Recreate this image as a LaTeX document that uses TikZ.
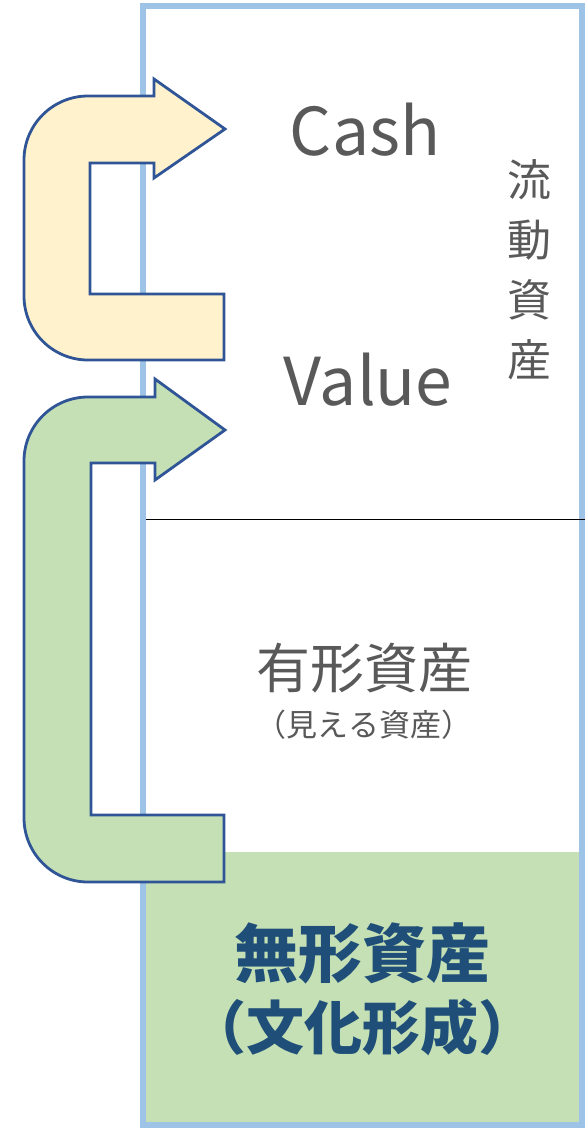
\documentclass[tikz,border=0pt]{standalone}
\usepackage{fontspec}
\setmainfont{Noto Sans CJK JP}
\usetikzlibrary{positioning}
\definecolor{framebl}{HTML}{9DC3E6}
\definecolor{arrowbl}{HTML}{2F5597}
\definecolor{cashyel}{HTML}{FFF2CC}
\definecolor{intgrn}{HTML}{C5E0B4}
\definecolor{txtgray}{HTML}{595959}
\definecolor{txtnavy}{HTML}{1F4E79}
\begin{document}
\begin{tikzpicture}[x=1pt, y=-1pt, bigarrow/.style={draw=arrowbl, line width=2.8pt,
    line join=miter}, label/.style={text=txtgray, inner sep=0pt}]
  \useasboundingbox (0,0) rectangle (585,1129);%
  \fill[intgrn] (145,852) rectangle (582,1125);%
  \draw[framebl, line width=6pt] (143,6.5) rectangle (582,1125);%
  \draw[black, line width=1pt] (146,519) -- (585,519);%
  % cash loop
  \draw[bigarrow, fill=cashyel] (224,360) -- (224,294) -- (90,294) -- (90,163)%
    -- (154,163) -- (154,178) -- (225,129) -- (154,79) -- (154,96) -- (88,96)%
    arc[start angle=270, end angle=180, radius=64] -- (24,296)%
    arc[start angle=180, end angle=90, radius=64] -- cycle;%
  % value loop
  \draw[bigarrow, fill=intgrn] (224,882) -- (224,815) -- (91,815) -- (91,463)%
    -- (155,463) -- (155,480) -- (225,430) -- (155,379) -- (155,397) -- (88,397)%
    arc[start angle=270, end angle=180, radius=64] -- (24,818)%
    arc[start angle=180, end angle=90, radius=64] -- cycle;%
  \node[label, font=\fontsize{66}{70}\selectfont] (cash) at (365,130) {Cash};%
  \node[label, font=\fontsize{66}{70}\selectfont] (value) at (368,380) {Value};%
  \node[label, font=\fontsize{44}{60}\selectfont, align=center] (ryudo) at (529,270)%
    {流\\動\\資\\産};%
  \node[label, font=\fontsize{54}{60}\selectfont] (yukei) at (364,668) {有形資産};%
  \node[label, font=\fontsize{31}{36}\selectfont, below=57pt of yukei.center, anchor=center]%
    (mieru) {（見える資産）};%
  \node[text=txtnavy, inner sep=0pt, font=\fontsize{64}{70}\selectfont\bfseries]%
    (mukei) at (362,953) {無形資産};%
  \node[text=txtnavy, inner sep=0pt, font=\fontsize{58}{70}\selectfont\bfseries,%
    below=74pt of mukei.center, anchor=center] (bunka) {（文化形成）};%
\end{tikzpicture}
\end{document}
